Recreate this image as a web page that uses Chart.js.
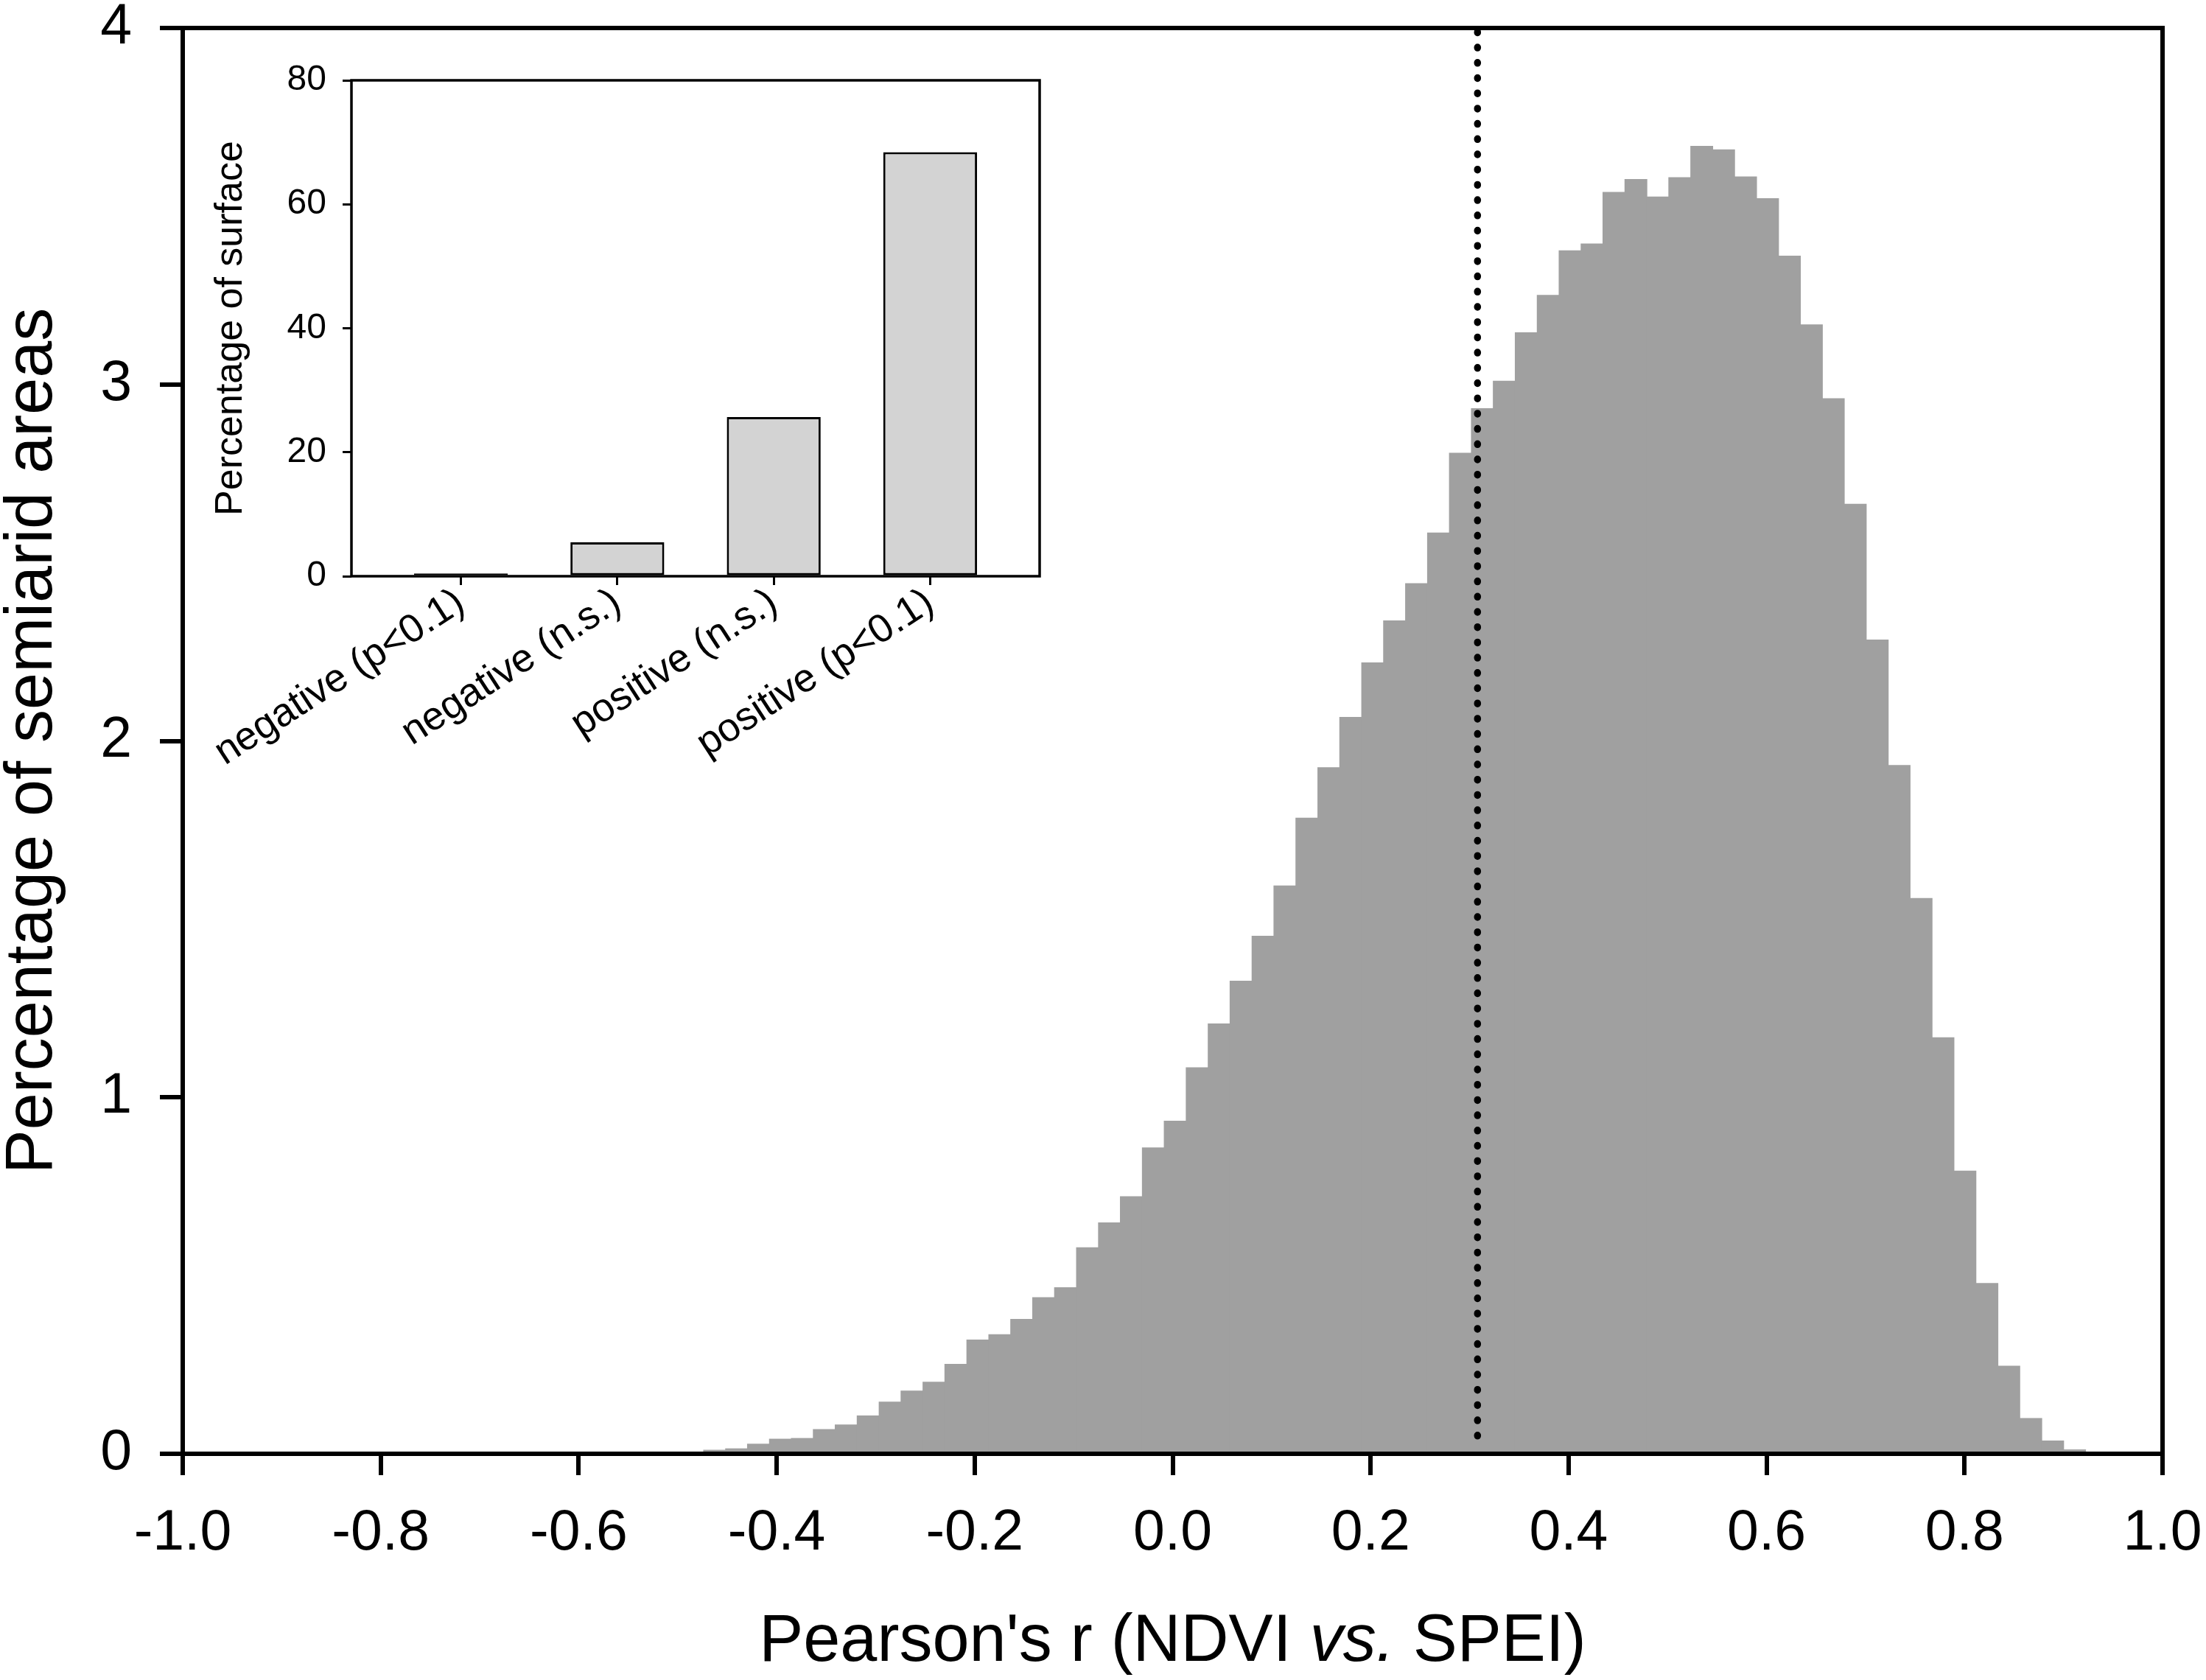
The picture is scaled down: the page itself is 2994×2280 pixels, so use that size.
<!DOCTYPE html>
<html><head><meta charset="utf-8">
<script src="https://cdn.jsdelivr.net/npm/chart.js@4.4.1/dist/chart.umd.min.js"></script>
<style>
html,body{margin:0;padding:0;background:#fff;}
#wrap{position:relative;width:2994px;height:2280px;background:#fff;}
#main{position:absolute;left:0;top:0;}
#inset{position:absolute;left:250px;top:80px;}
</style></head><body>
<div id="wrap">
<canvas id="main" width="2994" height="2280"></canvas>
<canvas id="inset" width="1180" height="1000"></canvas>
</div>
<script>
// ---- histogram data (bin centres of Pearson's r, % of semiarid areas) ----
const BIN_CENTERS = [-0.4627,-0.4405,-0.4184,-0.3962,-0.3741,-0.3519,-0.3298,-0.3076,-0.2854,-0.2633,
  -0.2411,-0.2190,-0.1968,-0.1746,-0.1525,-0.1303,-0.1082,-0.0860,-0.0638,-0.0417,
  -0.0195,0.0026,0.0248,0.0470,0.0691,0.0913,0.1134,0.1356,0.1578,0.1799,
  0.2021,0.2242,0.2464,0.2686,0.2907,0.3129,0.3350,0.3572,0.3794,0.4015,
  0.4237,0.4458,0.4680,0.4902,0.5123,0.5345,0.5566,0.5788,0.6010,0.6231,
  0.6453,0.6674,0.6896,0.7118,0.7339,0.7561,0.7782,0.8004,0.8226,0.8447,
  0.8669,0.8890,0.9112];
const BIN_VALUES = [0.010,0.014,0.027,0.041,0.043,0.068,0.081,0.106,0.145,0.176,
  0.201,0.251,0.319,0.334,0.377,0.438,0.466,0.578,0.648,0.721,
  0.858,0.933,1.083,1.206,1.326,1.452,1.593,1.783,1.925,2.066,
  2.219,2.337,2.441,2.583,2.807,2.932,3.009,3.145,3.250,3.375,
  3.394,3.539,3.575,3.526,3.580,3.668,3.658,3.582,3.521,3.360,
  3.167,2.960,2.664,2.283,1.931,1.558,1.167,0.793,0.478,0.246,
  0.099,0.036,0.011];
const MEAN_R = 0.308;
const MEAN_LINE_Y = [0.05, 4];
const X_TICKS = [-1.0,-0.8,-0.6,-0.4,-0.2,0.0,0.2,0.4,0.6,0.8,1.0];
const X_TICK_LABELS = ['-1.0','-0.8','-0.6','-0.4','-0.2','0.0','0.2','0.4','0.6','0.8','1.0'];
const Y_TICKS = [0,1,2,3,4];
const Y_TICK_LABELS = ['0','1','2','3','4'];
const Y_TITLE = 'Percentage of semiarid areas';
const X_TITLE_PARTS = [["Pearson's r (NDVI ", false], ['vs.', true], [' SPEI)', false]];

// ---- inset data ----
const INSET_CATEGORIES = ['negative (p<0.1)','negative (n.s.)','positive (n.s.)','positive (p<0.1)'];
const INSET_VALUES = [0.44, 5.46, 25.68, 68.4];
const INSET_Y_TICKS = [0,20,40,60,80];
const INSET_Y_TICK_LABELS = ['0','20','40','60','80'];
const INSET_Y_TITLE = 'Percentage of surface';

const FONT = 'Liberation Sans, Arial, Helvetica, sans-serif';
Chart.defaults.font.family = FONT;
Chart.defaults.color = '#000';

const framePlugin = {
  id: 'frame',
  afterDraw(chart, args, opts) {
    const {left, top, right, bottom} = chart.chartArea;
    const ctx = chart.ctx;
    ctx.save();
    ctx.strokeStyle = '#000';
    ctx.lineWidth = opts.width || 6;
    ctx.lineJoin = 'miter';
    ctx.strokeRect(left, top, right - left, bottom - top);
    ctx.restore();
  }
};

const xTitlePlugin = {
  id: 'xTitle',
  afterDraw(chart, args, opts) {
    if (!opts.parts) return;
    const ctx = chart.ctx;
    const xs = chart.scales.x;
    ctx.save();
    ctx.fillStyle = '#000';
    ctx.textBaseline = 'alphabetic';
    ctx.textAlign = 'left';
    const fontOf = it => (it ? 'italic ' : '') + opts.size + 'px ' + FONT;
    let total = 0;
    const widths = opts.parts.map(p => { ctx.font = fontOf(p[1]); const w = ctx.measureText(p[0]).width; total += w; return w; });
    let x = (xs.left + xs.right) / 2 - total / 2;
    const y = xs.bottom - opts.fromBottom;
    opts.parts.forEach((p, i) => { ctx.font = fontOf(p[1]); ctx.fillText(p[0], x, y); x += widths[i]; });
    ctx.restore();
  }
};

new Chart(document.getElementById('main'), {
  type: 'bar',
  data: {
    datasets: [
      {
        type: 'line',
        data: MEAN_LINE_Y.map(v => ({x: MEAN_R, y: v})),
        borderColor: '#000',
        borderWidth: 9.5,
        borderDash: [1, 19.7],
        borderCapStyle: 'round',
        pointRadius: 0,
        fill: false,
        order: 0
      },
      {
        type: 'bar',
        data: BIN_CENTERS.map((c, i) => ({x: c, y: BIN_VALUES[i]})),
        backgroundColor: '#a0a0a0',
        borderWidth: 0,
        barPercentage: 1.0,
        categoryPercentage: 1.0,
        inflateAmount: 0.6,
        order: 1
      }
    ]
  },
  options: {
    responsive: false,
    animation: false,
    devicePixelRatio: 1,
    layout: {padding: {top: 38, right: 59, left: 0, bottom: 0}},
    plugins: {
      legend: {display: false},
      tooltip: {enabled: false},
      frame: {width: 6},
      xTitle: {parts: X_TITLE_PARTS, size: 90, fromBottom: 26}
    },
    scales: {
      x: {
        type: 'linear', min: -1, max: 1, offset: false, z: 1,
        afterBuildTicks: s => { s.ticks = X_TICKS.map(v => ({value: v})); },
        ticks: {callback: (v, i) => X_TICK_LABELS[i], font: {size: 77}, color: '#000', padding: 34, maxRotation: 0, minRotation: 0, autoSkip: false},
        grid: {offset: false, drawOnChartArea: false, drawTicks: true, tickLength: 29, lineWidth: 6, color: '#000'},
        border: {display: false},
        afterFit: s => { s.height = 307; s.paddingLeft = 0; s.paddingRight = 0; }
      },
      y: {
        type: 'linear', min: 0, max: 4, z: 1,
        afterBuildTicks: s => { s.ticks = Y_TICKS.map(v => ({value: v})); },
        ticks: {callback: (v, i) => Y_TICK_LABELS[i], font: {size: 77}, color: '#000', padding: 38},
        grid: {offset: false, drawOnChartArea: false, drawTicks: true, tickLength: 31, lineWidth: 6, color: '#000'},
        border: {display: false},
        title: {display: true, text: Y_TITLE, color: '#000', font: {size: 90, lineHeight: 1}, padding: {top: 0, bottom: 0}},
        afterFit: s => { s.width = 248; s.paddingTop = 0; s.paddingBottom = 0; }
      }
    }
  },
  plugins: [framePlugin, xTitlePlugin]
});

new Chart(document.getElementById('inset'), {
  type: 'bar',
  data: {
    datasets: [{
      data: INSET_VALUES.map((v, i) => ({x: i, y: v})),
      backgroundColor: '#d3d3d3',
      borderColor: '#000',
      borderWidth: 3,
      borderSkipped: false,
      barPercentage: 0.6,
      categoryPercentage: 1.0
    }]
  },
  options: {
    responsive: false,
    animation: false,
    devicePixelRatio: 1,
    layout: {padding: {top: 29, right: 19, left: 0, bottom: 0}},
    plugins: {legend: {display: false}, tooltip: {enabled: false}, frame: {width: 3.5}},
    scales: {
      x: {
        type: 'linear', min: -0.7, max: 3.7, offset: false, z: 1,
        afterBuildTicks: s => { s.ticks = INSET_CATEGORIES.map((c, i) => ({value: i})); },
        ticks: {callback: (v, i) => INSET_CATEGORIES[i], font: {size: 54}, color: '#000', padding: -8, maxRotation: 33, minRotation: 33, autoSkip: false},
        grid: {offset: false, drawOnChartArea: false, drawTicks: true, tickLength: 12, lineWidth: 3, color: '#000'},
        border: {display: false},
        afterFit: s => { s.height = 298; s.paddingLeft = 0; s.paddingRight = 0; }
      },
      y: {
        type: 'linear', min: 0, max: 80, z: 1,
        afterBuildTicks: s => { s.ticks = INSET_Y_TICKS.map(v => ({value: v})); },
        ticks: {callback: (v, i) => INSET_Y_TICK_LABELS[i], font: {size: 48}, color: '#000', padding: 22},
        grid: {offset: false, drawOnChartArea: false, drawTicks: true, tickLength: 12, lineWidth: 3, color: '#000'},
        border: {display: false},
        title: {display: true, text: INSET_Y_TITLE, color: '#000', font: {size: 52, lineHeight: 1}, padding: {top: 38, bottom: 0}},
        afterFit: s => { s.width = 227; s.paddingTop = 0; s.paddingBottom = 0; }
      }
    }
  },
  plugins: [framePlugin]
});
</script>
</body></html>
